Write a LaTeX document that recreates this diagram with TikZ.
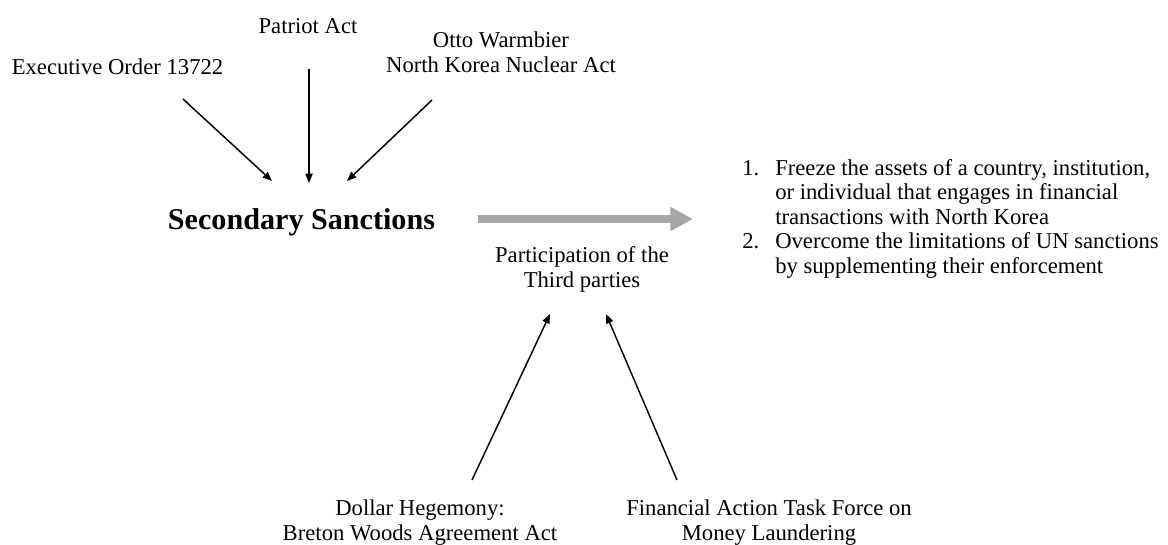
\documentclass[tikz,border=0pt]{standalone}
\usepackage{fontspec}
\setmainfont{Liberation Serif}
\usetikzlibrary{arrows.meta}
\definecolor{arrowgray}{HTML}{A6A6A6}

\begin{document}
\begin{tikzpicture}[
  x=0.75pt, y=-0.75pt,
  txt/.style={inner sep=0pt, font=\fontsize{17}{18.75}\selectfont, align=center},
  title/.style={inner sep=0pt, font=\fontsize{22.6}{26}\selectfont\bfseries},
  arr/.style={-{Triangle[length=7pt,width=5.5pt]}, line width=1.1pt},
  bigarr/.style={-{Triangle[length=17pt,width=17pt]}, line width=6pt, draw=arrowgray}
]
\useasboundingbox (0,0) rectangle (1168,544);

% Laws
\node[txt, anchor=base]  (exec)    at (117.5,74) {Executive Order 13722};
\node[txt, anchor=base]  (patriot) at (308,33)   {Patriot Act};
\node[txt, anchor=north] (otto)    at (501,31.4) {Otto Warmbier\\North Korea Nuclear Act};

% Center
\node[title, anchor=base] (sanc) at (301.5,229) {Secondary Sanctions};

% Third parties
\node[txt, anchor=north] (third) at (582,246.4) {Participation of the\\Third parties};

% Effects
\node[txt, anchor=base west, align=left, font=\fontsize{17}{18.45}\selectfont] (effects) at (742,175)
  {\begin{tabular}[t]{@{}l@{\hspace{12pt}}l@{}}
   1. & Freeze the assets of a country, institution,\\
      & or individual that engages in financial\\
      & transactions with North Korea\\
   2. & Overcome the limitations of UN sanctions\\
      & by supplementing their enforcement
   \end{tabular}};

% Drivers
\node[txt, anchor=north] (dollar) at (420,499.4) {Dollar Hegemony:\\Breton Woods Agreement Act};
\node[txt, anchor=north] (fatf)   at (769,499.4) {Financial Action Task Force on\\Money Laundering};

% Arrow ends
\coordinate (execT)    at (183,99);
\coordinate (execH)    at (272,181);
\coordinate (patriotT) at (309,69);
\coordinate (patriotH) at (309,183);
\coordinate (ottoT)    at (432,100);
\coordinate (ottoH)    at (347,181);
\coordinate (bigT)     at (478,219);
\coordinate (bigH)     at (693,219);
\coordinate (dollarT)  at (472,480);
\coordinate (dollarH)  at (550,314);
\coordinate (fatfT)    at (677,480);
\coordinate (fatfH)    at (606,314);

% Arrows
\draw[arr] (execT)    -- (execH);
\draw[arr] (patriotT) -- (patriotH);
\draw[arr] (ottoT)    -- (ottoH);
\draw[bigarr] (bigT)  -- (bigH);
\draw[arr] (dollarT)  -- (dollarH);
\draw[arr] (fatfT)    -- (fatfH);

\end{tikzpicture}
\end{document}
